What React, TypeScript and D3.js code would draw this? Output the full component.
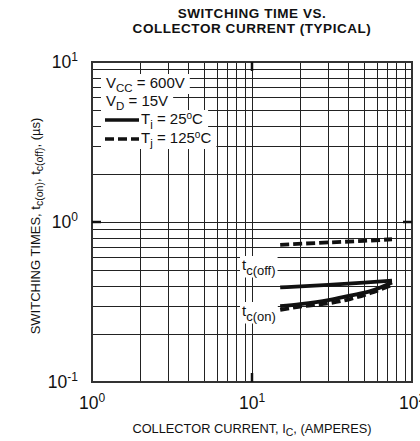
import React, { useEffect, useRef } from "react";
import * as d3 from "d3";

// Collector current (A) and switching times (µs), typical curves
const currentOff = [15, 30, 50, 75];
const tOff25 = [0.39, 0.405, 0.418, 0.43];
const tOff125 = [0.72, 0.745, 0.762, 0.78];

const currentOn = [15, 20, 30, 41, 55, 75];
const tOn25 = [0.298, 0.307, 0.325, 0.347, 0.37, 0.419];
const tOn125 = [0.282, 0.296, 0.31, 0.33, 0.36, 0.404];

const xDecades = [1, 10, 100];
const yDecades = [0.1, 1, 10];
const xExponents = ["0", "1", "2"];
const yExponents = ["-1", "0", "1"];

const titleLines = ["SWITCHING TIME VS.", "COLLECTOR CURRENT (TYPICAL)"];

const FONT = "'Liberation Sans', Arial, Helvetica, sans-serif";
const W = 420;
const H = 441;

type Part = { t: string; shift?: number; size?: number };

function richText(
  parent: d3.Selection<any, unknown, null, undefined>,
  x: number,
  y: number,
  parts: Part[],
  size: number,
  anchor = "start",
  weight = "normal"
) {
  const txt = parent
    .append("text")
    .attr("x", x)
    .attr("y", y)
    .attr("font-size", size)
    .attr("font-family", FONT)
    .attr("text-anchor", anchor)
    .attr("font-weight", weight)
    .attr("fill", "#111");
  let cur = 0;
  parts.forEach((p) => {
    const s = p.shift ?? 0;
    txt
      .append("tspan")
      .attr("dy", s - cur)
      .attr("font-size", p.size ?? size)
      .text(p.t);
    cur = s;
  });
  return txt;
}

function gridValues(decades: number[]) {
  const vals: number[] = [];
  for (let i = 0; i < decades.length - 1; i++) {
    for (let k = 1; k < 10; k++) vals.push(decades[i] * k);
  }
  vals.push(decades[decades.length - 1]);
  return vals;
}

export default function App() {
  const ref = useRef<SVGSVGElement>(null);

  useEffect(() => {
    const svg = d3.select(ref.current);
    svg.selectAll("*").remove();

    const left = 92;
    const right = 412;
    const top = 62;
    const bottom = 382;

    const x = d3.scaleLog().domain([1, 100]).range([left, right]);
    const y = d3.scaleLog().domain([0.1, 10]).range([bottom, top]);

    // title
    titleLines.forEach((line, i) => {
      svg
        .append("text")
        .attr("x", (left + right) / 2)
        .attr("y", 18 + i * 15)
        .attr("text-anchor", "middle")
        .attr("font-family", FONT)
        .attr("font-weight", "bold")
        .attr("font-size", 13.5)
        .attr("letter-spacing", 0.55)
        .attr("fill", "#111")
        .text(line);
    });

    // grid
    const grid = svg.append("g").attr("stroke", "#222").attr("stroke-width", 1);
    gridValues(xDecades).forEach((v) => {
      const px = Math.round(x(v)) + 0.5;
      grid.append("line").attr("x1", px).attr("x2", px).attr("y1", top).attr("y2", bottom);
    });
    gridValues(yDecades).forEach((v) => {
      const py = Math.round(y(v)) + 0.5;
      grid.append("line").attr("x1", left).attr("x2", right).attr("y1", py).attr("y2", py);
    });

    // curve labels with white background
    const labelLayer = svg.append("g");
    const addBg = (node: SVGTextElement, padX: number, padY: number) => {
      const b = node.getBBox();
      labelLayer
        .insert("rect", () => node)
        .attr("x", b.x - padX)
        .attr("y", b.y - padY)
        .attr("width", b.width + 2 * padX)
        .attr("height", b.height + 2 * padY)
        .attr("fill", "#fff");
    };
    const offLabel = richText(labelLayer, 242, 270, [{ t: "t" }, { t: "c(off)", shift: 4.5, size: 13 }], 15);
    addBg(offLabel.node() as SVGTextElement, 2, 0);
    const onLabel = richText(labelLayer, 242, 316, [{ t: "t" }, { t: "c(on)", shift: 4.5, size: 13 }], 15);
    addBg(onLabel.node() as SVGTextElement, 2, 0);

    // legend
    const legend = svg.append("g");
    const legendRows: { parts: Part[]; y: number; sample?: string }[] = [
      { parts: [{ t: "V" }, { t: "CC", shift: 3.5, size: 11.5 }, { t: " = 600V", shift: 0 }], y: 88 },
      { parts: [{ t: "V" }, { t: "D", shift: 3.5, size: 11.5 }, { t: " = 15V", shift: 0 }], y: 106 },
      { parts: [{ t: "T" }, { t: "j", shift: 3.5, size: 11.5 }, { t: " = 25", shift: 0 }, { t: "o", shift: -5.5, size: 10 }, { t: "C", shift: 0 }], y: 124, sample: "none" },
      { parts: [{ t: "T" }, { t: "j", shift: 3.5, size: 11.5 }, { t: " = 125", shift: 0 }, { t: "o", shift: -5.5, size: 10 }, { t: "C", shift: 0 }], y: 143, sample: "9,4" },
    ];
    legendRows.forEach((row) => {
      const tx = row.sample ? 141 : 106;
      const t = richText(legend, tx, row.y, row.parts, 15);
      const b = (t.node() as SVGTextElement).getBBox();
      legend
        .insert("rect", () => t.node())
        .attr("x", 101)
        .attr("y", row.y - 14)
        .attr("width", b.x + b.width + 5 - 101)
        .attr("height", 20)
        .attr("fill", "#fff");
      if (row.sample) {
        legend
          .append("line")
          .attr("x1", 105)
          .attr("x2", 139)
          .attr("y1", row.y - 4)
          .attr("y2", row.y - 4)
          .attr("stroke", "#111")
          .attr("stroke-width", 3.5)
          .attr("stroke-dasharray", row.sample === "none" ? null : row.sample);
      }
    });

    // curves
    const line = d3
      .line<[number, number]>()
      .x((d) => x(d[0]))
      .y((d) => y(d[1]))
      .curve(d3.curveMonotoneX);
    const curves: { xs: number[]; ys: number[]; dash: string | null }[] = [
      { xs: currentOff, ys: tOff125, dash: "9,4" },
      { xs: currentOff, ys: tOff25, dash: null },
      { xs: currentOn, ys: tOn25, dash: null },
      { xs: currentOn, ys: tOn125, dash: "9,4" },
    ];
    curves.forEach((c) => {
      svg
        .append("path")
        .attr("d", line(c.xs.map((v, i) => [v, c.ys[i]] as [number, number])))
        .attr("fill", "none")
        .attr("stroke", "#111")
        .attr("stroke-width", 3.8)
        .attr("stroke-dasharray", c.dash);
    });

    // frame
    svg
      .append("rect")
      .attr("x", left)
      .attr("y", top)
      .attr("width", right - left)
      .attr("height", bottom - top)
      .attr("fill", "none")
      .attr("stroke", "#333")
      .attr("stroke-width", 2);

    // major tick marks inside the frame
    const tickLen = 9;
    const majorX = x(10);
    const majorY = y(1);
    const ticks = svg.append("g").attr("stroke", "#111").attr("stroke-width", 2.5);
    ticks.append("line").attr("x1", majorX).attr("x2", majorX).attr("y1", top).attr("y2", top + tickLen);
    ticks.append("line").attr("x1", majorX).attr("x2", majorX).attr("y1", bottom).attr("y2", bottom - tickLen);
    ticks.append("line").attr("x1", left).attr("x2", left + tickLen).attr("y1", majorY).attr("y2", majorY);
    ticks.append("line").attr("x1", right).attr("x2", right - tickLen).attr("y1", majorY).attr("y2", majorY);

    // axis tick labels
    xDecades.forEach((v, i) => {
      richText(svg as any, x(v), 409, [{ t: "10" }, { t: xExponents[i], shift: -7, size: 12 }], 17.5, "middle");
    });
    yDecades.forEach((v, i) => {
      richText(svg as any, 78, y(v) + 6, [{ t: "10" }, { t: yExponents[i], shift: -7, size: 12 }], 17.5, "end");
    });

    // axis titles
    richText(
      svg as any,
      (left + right) / 2,
      432.5,
      [{ t: "COLLECTOR CURRENT, I" }, { t: "C", shift: 3, size: 10.5 }, { t: ", (AMPERES)", shift: 0 }],
      12.8,
      "middle"
    );
    const yTitle = svg.append("g").attr("transform", `translate(40, ${(top + bottom) / 2 + 4}) rotate(-90)`);
    richText(
      yTitle as any,
      0,
      0,
      [
        { t: "SWITCHING TIMES, t" },
        { t: "c(on)", shift: 3, size: 10.5 },
        { t: ", t", shift: 0 },
        { t: "c(off)", shift: 3, size: 10.5 },
        { t: ", (µs)", shift: 0 },
      ],
      13,
      "middle"
    );
  }, []);

  return (
    <svg
      ref={ref}
      width={W}
      height={H}
      style={{ position: "absolute", left: 0, top: 0, background: "#fff" }}
    />
  );
}
